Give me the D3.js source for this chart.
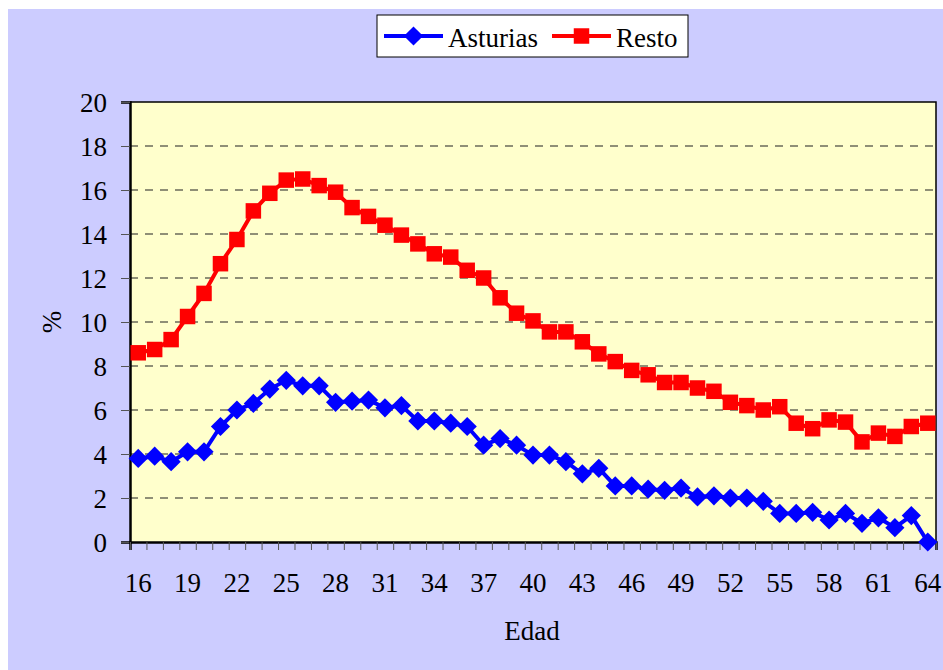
<!DOCTYPE html>
<html>
<head>
<meta charset="utf-8">
<script src="https://cdn.jsdelivr.net/npm/d3@7"></script>
<style>
    body { margin: 0; background: #fff; }
    svg text { font-family: "Liberation Serif", "Times New Roman", serif; fill: #000; }
</style>
</head>
<body>
<div id="chart"></div>
<script>
const ages = d3.range(16, 65)
const asturias = [
    3.8, 3.9, 3.65, 4.1, 4.1, 5.25, 6.0, 6.3, 6.95, 7.35,
    7.1, 7.1, 6.35, 6.4, 6.45, 6.1, 6.2, 5.5, 5.5, 5.4,
    5.25, 4.4, 4.7, 4.4, 3.95, 3.95, 3.65, 3.1, 3.35, 2.55,
    2.55, 2.4, 2.35, 2.45, 2.05, 2.1, 2.0, 2.0, 1.85, 1.3,
    1.3, 1.35, 1.0, 1.3, 0.85, 1.1, 0.65, 1.2, 0.0
]
const resto = [
    8.6, 8.75, 9.2, 10.25, 11.3, 12.65, 13.75, 15.05, 15.85, 16.45,
    16.5, 16.2, 15.9, 15.2, 14.8, 14.4, 13.95, 13.55, 13.1, 12.95,
    12.35, 12.0, 11.1, 10.4, 10.05, 9.55, 9.55, 9.1, 8.55, 8.2,
    7.8, 7.6, 7.25, 7.25, 7.0, 6.85, 6.35, 6.2, 6.0, 6.15,
    5.4, 5.15, 5.55, 5.45, 4.55, 4.95, 4.8, 5.25, 5.4
]
const yTicks = d3.range(0, 21, 2)
const xLabels = d3.range(16, 65, 3)

const W = 943, H = 670
const margin = { top: 102, right: 7, bottom: 128, left: 130 }
const width = W - margin.left - margin.right
const height = H - margin.top - margin.bottom
const font = 27
const serif = "'Liberation Serif', 'Times New Roman', serif"

const svg = d3.select("#chart").append("svg")
    .attr("width", W)
    .attr("height", H)

// outer chart area
svg.append("rect")
    .attr("x", 8).attr("y", 9)
    .attr("width", W - 8).attr("height", H - 9)
    .attr("fill", "#ccccff")

const g = svg.append("g")
    .attr("transform", `translate(${margin.left}, ${margin.top})`)

const x = d3.scaleBand().domain(ages).range([0, width]).padding(0)
const y = d3.scaleLinear().domain([0, 20]).range([height, 0])
const cx = d => x(d) + x.bandwidth() / 2

// plot area
g.append("rect")
    .attr("width", width).attr("height", height)
    .attr("fill", "#ffffcc")

// dashed grid
g.append("g")
    .selectAll("line")
    .data(yTicks.filter(t => t > 0 && t < 20))
    .join("line")
    .attr("x1", 0).attr("x2", width)
    .attr("y1", d => y(d)).attr("y2", d => y(d))
    .attr("stroke", "#6b6b5a")
    .attr("stroke-width", 1.5)
    .attr("stroke-dasharray", "8,7")

// plot border (top/right)
g.append("path")
    .attr("d", `M0,0H${width}V${height}`)
    .attr("fill", "none")
    .attr("stroke", "#000")
    .attr("stroke-width", 1.5)

// y axis
const yAxis = g.append("g")
    .call(d3.axisLeft(y).tickValues(yTicks).tickSize(9).tickPadding(14))
yAxis.attr("font-family", serif)
yAxis.select(".domain").attr("stroke", "#000").attr("stroke-width", 2.5)
yAxis.selectAll(".tick line").attr("stroke", "#555")
yAxis.selectAll(".tick text")
    .style("font-family", serif)
    .style("font-size", font + "px")
    .attr("dy", "0.34em")

// x axis: ticks at category boundaries
const xEdge = d3.scaleLinear().domain([15.5, 64.5]).range([0, width])
const xTickAxis = g.append("g")
    .attr("transform", `translate(0, ${height})`)
    .call(d3.axisBottom(xEdge).tickValues(d3.range(15.5, 65, 1)).tickSize(8).tickFormat(""))
xTickAxis.select(".domain").attr("stroke", "#000").attr("stroke-width", 2.5)
xTickAxis.selectAll(".tick line").attr("stroke", "#555")

const xLabelAxis = g.append("g")
    .attr("transform", `translate(0, ${height})`)
    .call(d3.axisBottom(x).tickValues(xLabels).tickSize(0).tickPadding(31))
xLabelAxis.attr("font-family", serif)
xLabelAxis.select(".domain").remove()
xLabelAxis.selectAll(".tick text")
    .style("font-family", serif)
    .style("font-size", font + "px")

// axis titles
svg.append("text")
    .attr("x", margin.left + width / 2 - 1)
    .attr("y", 640)
    .attr("text-anchor", "middle")
    .style("font-family", serif)
    .style("font-size", font + "px")
    .text("Edad")

svg.append("text")
    .attr("transform", `translate(61, 322) rotate(-90)`)
    .attr("text-anchor", "middle")
    .style("font-family", serif)
    .style("font-size", font + "px")
    .text("%")

// series
const line = vals => d3.line()
    .x((d, i) => cx(ages[i]))
    .y(d => y(d))(vals)

const diamond = d3.symbol().type(d3.symbolDiamond2).size(235)
const square = d3.symbol().type(d3.symbolSquare).size(240)

function addSeries(vals, color, symbol) {
    g.append("path")
        .attr("d", line(vals))
        .attr("fill", "none")
        .attr("stroke", color)
        .attr("stroke-width", 4)
    g.append("g")
        .selectAll("path")
        .data(vals)
        .join("path")
        .attr("transform", (d, i) => `translate(${cx(ages[i])}, ${y(d)})`)
        .attr("d", symbol)
        .attr("fill", color)
}
addSeries(asturias, "#0000ff", diamond)
addSeries(resto, "#ff0000", square)

// legend
const legend = svg.append("g").attr("transform", "translate(377, 15)")
legend.append("rect")
    .attr("width", 311).attr("height", 42)
    .attr("fill", "#fff")
    .attr("stroke", "#000")
    .attr("stroke-width", 1)
const items = [
    { name: "Asturias", color: "#0000ff", symbol: diamond, x: 7 },
    { name: "Resto", color: "#ff0000", symbol: square, x: 175 }
]
items.forEach(it => {
    legend.append("line")
        .attr("x1", it.x).attr("x2", it.x + 59)
        .attr("y1", 21).attr("y2", 21)
        .attr("stroke", it.color).attr("stroke-width", 4)
    legend.append("path")
        .attr("transform", `translate(${it.x + 29.5}, 21)`)
        .attr("d", it.symbol)
        .attr("fill", it.color)
    legend.append("text")
        .attr("x", it.x + 64)
        .attr("y", 32)
        .style("font-family", serif)
        .style("font-size", font + "px")
        .text(it.name)
})
</script>
</body>
</html>
